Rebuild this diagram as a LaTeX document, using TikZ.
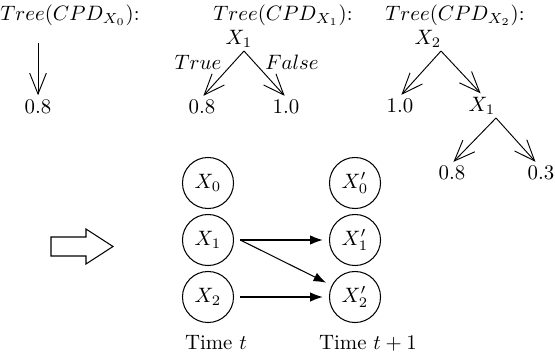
\documentclass[tikz,border=0pt]{standalone}
\usetikzlibrary{arrows.meta}
\begin{document}
\begin{tikzpicture}[x=0.48pt,y=-0.48pt,
  lbl/.style={inner sep=1pt},
  tarrow/.style={-{Straight Barb[length=10pt,width=8pt]}, line width=0.45pt, shorten >=1pt},
  var/.style={circle, draw, line width=0.5pt, minimum size=24.5pt, inner sep=0pt},
  darrow/.style={-{Latex[length=6pt,width=4.5pt]}, line width=0.5pt, shorten >=3pt},
  blockarrow/.style={draw, line width=0.5pt, line join=miter}]
\useasboundingbox (0,0) rectangle (555,356);
% titles
\node[lbl] (t0) at (70,15) {$Tree(CPD_{X_0})$:};
\node[lbl] (t1) at (283,15) {$Tree(CPD_{X_1})$:};
\node[lbl] (t2) at (455,15) {$Tree(CPD_{X_2})$:};
% tree 0
\coordinate (s0) at (38,43);
\node[lbl] (l00) at (38,107) {0.8};
\draw[tarrow] (s0) -- (l00.north);
% tree 1
\node[lbl] (r1) at (239,39) {$X_1$};
\coordinate (s1) at (244,51);
\node[lbl] (l10) at (202,107) {0.8};
\node[lbl] (l11) at (286,107) {1.0};
\node[lbl] (tr) at (198,62) {$True$};
\node[lbl] (fa) at (292,62) {$False$};
\draw[tarrow] (s1) -- (l10.north);
\draw[tarrow] (s1) -- (l11.north);
% tree 2
\node[lbl] (r2) at (428,39) {$X_2$};
\coordinate (s2) at (441,51);
\node[lbl] (l20) at (400,106) {1.0};
\node[lbl] (m2) at (482,106) {$X_1$};
\coordinate (s3) at (496,118);
\node[lbl] (l21) at (452,173) {0.8};
\node[lbl] (l22) at (541,173) {0.3};
\draw[tarrow] (s2) -- (l20.north);
\draw[tarrow] (s2) -- (m2.north);
\draw[tarrow] (s3) -- (l21.north);
\draw[tarrow] (s3) -- ([xshift=-2pt]l22.north);
% block arrow
\draw[blockarrow] (51,237) -- (86,237) -- (86,229) -- (113,246.5) -- (86,264) -- (86,256) -- (51,256) -- cycle;
% DBN
\node[var] (x0) at (208,183) {$X_0$};
\node[var] (x1) at (208,240) {$X_1$};
\node[var] (x2) at (208,297) {$X_2$};
\node[var] (y0) at (355,183) {$X_0'$};
\node[var] (y1) at (355,240) {$X_1'$};
\node[var] (y2) at (355,297) {$X_2'$};
\coordinate (o1) at ([xshift=3pt]x1.east);
\coordinate (o2) at ([xshift=3pt]x2.east);
\draw[darrow] (o1) -- (y1);
\draw[darrow] (o1) -- (y2);
\draw[darrow] (o2) -- (y2);
\node[lbl] (tt) at (216,343) {Time $t$};
\node[lbl] (tt1) at (368,343) {Time $t+1$};
\end{tikzpicture}
\end{document}
